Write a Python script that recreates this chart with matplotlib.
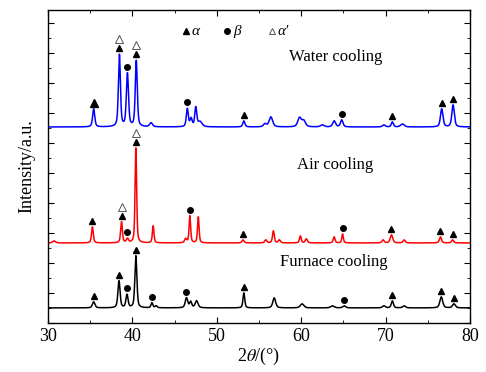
import numpy as np
import matplotlib
matplotlib.use("Agg")
import matplotlib.pyplot as plt
from matplotlib.ticker import MultipleLocator, NullFormatter

plt.rcParams["font.family"] = ["Liberation Serif", "DejaVu Serif"]
plt.rcParams["mathtext.fontset"] = "stix"

# ---------------------------------------------------------------------------
# Peak tables (2theta, height, FWHM), arbitrary units
# ---------------------------------------------------------------------------
furnace_pos = [35.4, 38.4, 39.35, 40.4, 42.3, 42.8, 46.4, 46.9, 47.6, 53.2, 56.8, 60.1, 63.7, 65.1, 69.8, 70.8, 72.2, 76.6, 78.1]
furnace_h   = [6, 27, 13, 52, 5, 2, 10, 6, 7, 15, 10, 4, 2, 2, 2, 7, 2, 11, 4]
furnace_w   = [0.35, 0.3, 0.3, 0.28, 0.25, 0.3, 0.35, 0.3, 0.4, 0.25, 0.4, 0.5, 0.5, 0.4, 0.4, 0.3, 0.4, 0.4, 0.4]

air_pos = [30.7, 35.25, 38.7, 39.4, 40.4, 42.45, 46.3, 46.8, 47.8, 53.1, 55.8, 56.7, 57.4, 59.9, 60.6, 63.9, 64.9, 69.7, 70.7, 72.2, 76.5, 77.95]
air_h   = [2, 16, 21, 4, 95, 17, 4, 27, 26, 3, 3, 12, 3, 7, 4, 6, 9, 3, 8, 3, 6, 3]
air_w   = [0.4, 0.25, 0.25, 0.3, 0.22, 0.22, 0.3, 0.22, 0.22, 0.3, 0.3, 0.25, 0.3, 0.25, 0.3, 0.25, 0.22, 0.3, 0.35, 0.3, 0.3, 0.3]

water_pos = [35.4, 38.45, 39.4, 40.45, 42.2, 46.5, 46.95, 47.5, 48.0, 53.2, 55.7, 56.4, 59.8, 60.3, 62.5, 63.9, 64.8, 69.8, 70.8, 72.0, 76.65, 78.0]
water_h   = [18, 72, 53, 66, 4, 18, 8, 19, 5, 6, 3, 10, 9, 6, 2, 6, 7, 2, 5, 3, 18, 22]
water_w   = [0.3, 0.28, 0.3, 0.28, 0.4, 0.28, 0.3, 0.28, 0.6, 0.3, 0.4, 0.5, 0.5, 0.5, 0.5, 0.4, 0.35, 0.4, 0.3, 0.5, 0.35, 0.35]

# vertical offsets of the stacked patterns
offsets = {"furnace": 15, "air": 80, "water": 196}

# phase markers for each pattern (2theta positions)
furnace_alpha = [35.4, 38.4, 40.4, 53.2, 70.8, 76.6, 78.1]
furnace_beta  = [39.35, 42.3, 46.4, 65.1]
furnace_alpha_p = []

air_alpha = [35.25, 38.7, 40.4, 53.1, 70.7, 76.5, 77.95]
air_beta  = [39.4, 46.8, 64.9]
air_alpha_p = [38.7, 40.4]

water_alpha = [35.4, 38.45, 40.45, 53.2, 70.8, 76.65, 78.0]
water_beta  = [39.4, 46.5, 64.8]
water_alpha_p = [38.45, 40.45]

two_theta = np.linspace(30, 80, 5001)


def pattern(pos, h, w):
    y = np.zeros_like(two_theta)
    for c, a, fw in zip(pos, h, w):
        g = np.exp(-4 * np.log(2) * ((two_theta - c) / fw) ** 2)
        l = 1 / (1 + ((two_theta - c) / (fw / 2)) ** 2)
        y += a * (0.5 * g + 0.5 * l)
    return y


def top_at(y, x0):
    m = np.abs(two_theta - x0) < 0.15
    return y[m].max()


fig = plt.figure(figsize=(4.86, 3.72), dpi=100)
ax = fig.add_axes([0.099, 0.132, 0.868, 0.841])

samples = [
    ("water", water_pos, water_h, water_w, "#0000FF", water_alpha, water_beta, water_alpha_p),
    ("air", air_pos, air_h, air_w, "#FF0000", air_alpha, air_beta, air_alpha_p),
    ("furnace", furnace_pos, furnace_h, furnace_w, "black", furnace_alpha, furnace_beta, furnace_alpha_p),
]

for name, pos, h, w, col, a_pos, b_pos, ap_pos in samples:
    y = pattern(pos, h, w) + offsets[name]
    ax.plot(two_theta, y, color=col, lw=1.1)
    for x0 in a_pos:
        ms = 6 if (name == "water" and x0 == 35.4) else 4.3
        ax.plot(x0, top_at(y, x0) + 6, "^", color="black", ms=ms)
    for x0 in b_pos:
        ax.plot(x0, top_at(y, x0) + 6, "o", color="black", ms=4)
    for x0 in ap_pos:
        ax.plot(x0, top_at(y, x0) + 15, "^", mfc="white", mec="#555555", mew=0.7, ms=5.5)

# legend of phase symbols
ax.plot(46.3, 292, "^", color="black", ms=4.3)
ax.text(47.0, 292, "α", fontsize=11, style="italic", va="center")
ax.plot(51.2, 292, "o", color="black", ms=4)
ax.text(51.9, 292, "β", fontsize=11, style="italic", va="center")
ax.plot(56.5, 292, "^", mfc="white", mec="#555555", mew=0.7, ms=4.3)
ax.text(57.2, 292, "α′", fontsize=11, style="italic", va="center")

ax.text(58.5, 266, "Water cooling", fontsize=12, va="center")
ax.text(59.5, 158, "Air cooling", fontsize=12, va="center")
ax.text(57.5, 61, "Furnace cooling", fontsize=12, va="center")

ax.set_xlim(30, 80)
ax.set_ylim(0, 313)
ax.xaxis.set_major_locator(MultipleLocator(10))
ax.xaxis.set_minor_locator(MultipleLocator(5))
ax.yaxis.set_major_locator(MultipleLocator(30))
ax.yaxis.set_minor_locator(MultipleLocator(15))
ax.yaxis.set_major_formatter(NullFormatter())
ax.tick_params(which="both", direction="in", top=True, right=True, labelsize=13)
ax.tick_params(which="major", length=4)
ax.tick_params(which="minor", length=2.5)
for s in ax.spines.values():
    s.set_linewidth(1.0)

ax.set_xlabel(r"2$\theta$/(°)", fontsize=13, labelpad=1)
ax.set_ylabel("Intensity/a.u.", fontsize=13, labelpad=6)

fig.savefig("out.png", dpi=100)
